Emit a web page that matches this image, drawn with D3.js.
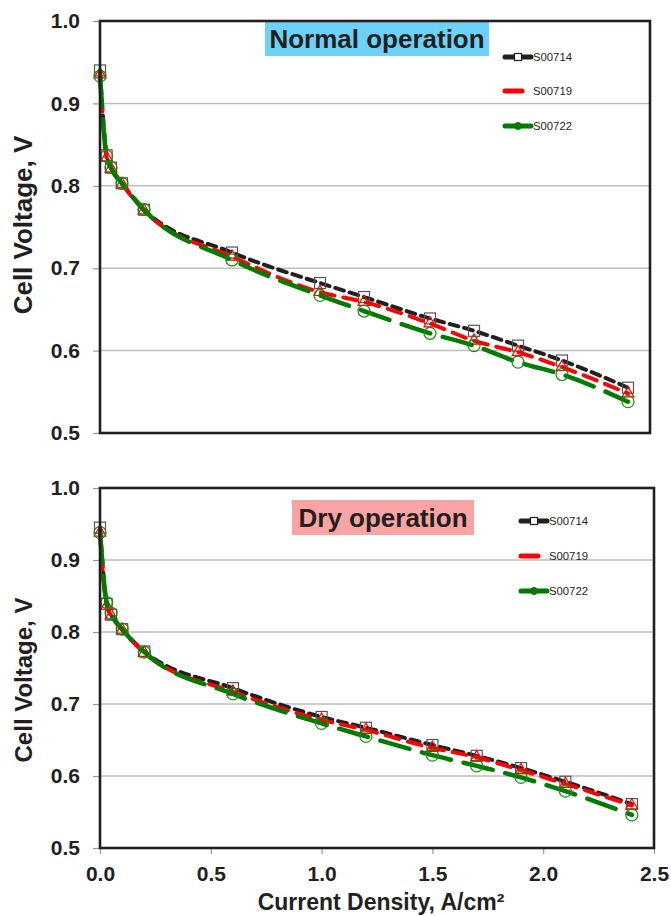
<!DOCTYPE html>
<html>
<head>
<meta charset="utf-8">
<script src="https://cdn.jsdelivr.net/npm/d3@7"></script>
<style>
  html, body { margin: 0; padding: 0; background: #fff; }
  svg { display: block; font-family: "Liberation Sans", Arial, sans-serif; }
</style>
</head>
<body>
<svg id="chart" width="671" height="916"></svg>
<script>
// ---- Data ----
const currentDensity = [0, 0.03, 0.05, 0.1, 0.2, 0.6, 1.0, 1.2, 1.5, 1.7, 1.9, 2.1, 2.4];
const seriesNames = ["S00714", "S00719", "S00722"];

const normal_S00714 = [0.940, 0.837, 0.822, 0.803, 0.771, 0.719, 0.682, 0.665, 0.639, 0.624, 0.606, 0.588, 0.555];
const normal_S00719 = [0.935, 0.834, 0.821, 0.802, 0.770, 0.714, 0.671, 0.659, 0.633, 0.612, 0.598, 0.580, 0.548];
const normal_S00722 = [0.933, 0.836, 0.822, 0.803, 0.771, 0.710, 0.667, 0.648, 0.621, 0.606, 0.586, 0.571, 0.538];

const dry_S00714 = [0.945, 0.839, 0.824, 0.804, 0.773, 0.722, 0.682, 0.667, 0.643, 0.628, 0.611, 0.592, 0.561];
const dry_S00719 = [0.938, 0.836, 0.823, 0.803, 0.771, 0.717, 0.678, 0.664, 0.639, 0.626, 0.608, 0.589, 0.559];
const dry_S00722 = [0.938, 0.841, 0.826, 0.804, 0.772, 0.714, 0.673, 0.655, 0.629, 0.614, 0.598, 0.579, 0.546];

const yTicks = [0.5, 0.6, 0.7, 0.8, 0.9, 1.0];
const xTicks = [0, 0.5, 1.0, 1.5, 2.0, 2.5];
const yTitle = "Cell Voltage, V";
const xTitle = "Current Density, A/cm²";
const panelTitles = ["Normal operation", "Dry operation"];

// ---- Styles ----
const seriesStyle = [
  { color: "#231f20", dash: "9,6", width: 4, marker: "square", mColor: "#555" },
  { color: "#ff0000", dash: "14,9", width: 4, marker: "triangle", mColor: "#ff0000" },
  { color: "#007a00", dash: "30,13", width: 4.5, marker: "circle", mColor: "#1a8a1a" }
];

const svg = d3.select("#chart");

function drawPanel(cfg) {
  const g = svg.append("g");
  const x = d3.scaleLinear().domain([0, 2.5]).range([cfg.left, cfg.right]);
  const y = d3.scaleLinear().domain([0.5, 1.0]).range([cfg.bottom, cfg.top]);

  // grid
  g.selectAll(".grid").data(yTicks.filter(t => t > 0.5 && t < 1.0)).enter()
    .append("line")
    .attr("x1", cfg.left).attr("x2", cfg.right)
    .attr("y1", d => y(d)).attr("y2", d => y(d))
    .attr("stroke", "#bdbdbd").attr("stroke-width", 1.5);

  // y axis
  const yAxis = d3.axisLeft(y).tickValues(yTicks).tickSize(7).tickPadding(13)
    .tickFormat(d3.format(".1f"));
  const ya = g.append("g").attr("transform", `translate(${cfg.left},0)`).call(yAxis);
  ya.select(".domain").remove();
  ya.selectAll(".tick line").attr("stroke", "#999").attr("stroke-width", 1.2);
  ya.selectAll(".tick text").attr("font-size", 21).attr("font-weight", "bold")
    .attr("fill", "#231f20").attr("font-family", "Liberation Sans, Arial, sans-serif");

  // x axis
  if (cfg.showX) {
    const xAxis = d3.axisBottom(x).tickValues(xTicks).tickSize(6).tickPadding(12)
      .tickFormat(d3.format(".1f"));
    const xa = g.append("g").attr("transform", `translate(0,${cfg.bottom})`).call(xAxis);
    xa.select(".domain").remove();
    xa.selectAll(".tick line").attr("stroke", "#999").attr("stroke-width", 1.2);
    xa.selectAll(".tick text").attr("font-size", 21).attr("font-weight", "bold")
      .attr("fill", "#231f20").attr("font-family", "Liberation Sans, Arial, sans-serif");
    g.append("text").attr("x", 381).attr("y", 910).attr("text-anchor", "middle")
      .attr("font-size", 23).attr("font-weight", "bold").attr("fill", "#231f20")
      .text(xTitle);
  }

  // title box
  const tb = cfg.titleBox;
  g.append("rect").attr("x", tb.x).attr("y", tb.y).attr("width", tb.w).attr("height", tb.h)
    .attr("fill", tb.fill);
  g.append("text").attr("x", tb.x + tb.w / 2).attr("y", tb.baseline).attr("text-anchor", "middle")
    .attr("font-size", 26).attr("font-weight", "bold").attr("fill", "#231f20")
    .text(cfg.title);

  // y title
  g.append("text")
    .attr("transform", `translate(${cfg.yTitleX},${cfg.yTitleY}) rotate(-90)`)
    .attr("text-anchor", "middle").attr("font-size", cfg.yTitleSize).attr("font-weight", "bold")
    .attr("fill", "#231f20").text(yTitle);

  // clip
  const line = d3.line().x(d => x(d[0])).y(d => y(d[1])).curve(d3.curveMonotoneX);

  cfg.series.forEach((vals, i) => {
    const st = seriesStyle[i];
    const pts = currentDensity.map((c, k) => [c, vals[k]]);
    g.append("path").attr("d", line(pts)).attr("fill", "none")
      .attr("stroke", st.color).attr("stroke-width", st.width)
      .attr("stroke-dasharray", st.dash).attr("stroke-linecap", "round");
    const m = g.append("g");
    pts.forEach(p => {
      const px = x(p[0]), py = y(p[1]);
      if (st.marker === "square") {
        m.append("rect").attr("x", px - 5.5).attr("y", py - 5.5).attr("width", 11).attr("height", 11)
          .attr("fill", "none").attr("stroke", st.mColor).attr("stroke-width", 1.2);
      } else if (st.marker === "triangle") {
        m.append("path").attr("d", d3.symbol().type(d3.symbolTriangle).size(60)())
          .attr("transform", `translate(${px},${py})`)
          .attr("fill", "none").attr("stroke", st.mColor).attr("stroke-width", 1.2);
      } else {
        m.append("circle").attr("cx", px).attr("cy", py).attr("r", 6)
          .attr("fill", "none").attr("stroke", st.mColor).attr("stroke-width", 1.2);
      }
    });
  });

  // frame
  g.append("rect").attr("x", cfg.left).attr("y", cfg.top)
    .attr("width", cfg.right - cfg.left).attr("height", cfg.bottom - cfg.top)
    .attr("fill", "none").attr("stroke", "#231f20").attr("stroke-width", 2.6);

  // legend
  const lg = cfg.legend;
  seriesNames.forEach((name, i) => {
    const st = seriesStyle[i];
    const ly = lg.ys[i];
    const lx2 = i === 1 ? lg.x2 - 9 : lg.x2;
    g.append("line").attr("x1", lg.x1).attr("x2", lx2).attr("y1", ly).attr("y2", ly)
      .attr("stroke", st.color).attr("stroke-width", 5).attr("stroke-linecap", "round");
    const mx = (lg.x1 + lg.x2) / 2;
    if (st.marker === "square") {
      g.append("rect").attr("x", mx - 3.5).attr("y", ly - 3.5).attr("width", 7).attr("height", 7)
        .attr("fill", "#fff").attr("stroke", st.color).attr("stroke-width", 1.2);
    } else if (st.marker === "circle") {
      g.append("circle").attr("cx", mx).attr("cy", ly).attr("r", 3.5)
        .attr("fill", st.color).attr("stroke", st.color);
    }
    g.append("text").attr("x", lg.tx).attr("y", ly + 4).attr("font-size", 11.3)
      .attr("fill", "#231f20").text(name);
  });
}

drawPanel({
  left: 100, right: 650, top: 21, bottom: 433, showX: false,
  series: [normal_S00714, normal_S00719, normal_S00722],
  title: panelTitles[0],
  titleBox: { x: 265, y: 22, w: 224, h: 34, baseline: 48, fill: "#6dd2f7" },
  yTitleX: 32, yTitleY: 225, yTitleSize: 26,
  legend: { x1: 505, x2: 531, tx: 533, ys: [57, 91, 126] }
});

drawPanel({
  left: 100, right: 654, top: 488, bottom: 848, showX: true,
  series: [dry_S00714, dry_S00719, dry_S00722],
  title: panelTitles[1],
  titleBox: { x: 292, y: 500, w: 182, h: 35, baseline: 527, fill: "#f8a4a4" },
  yTitleX: 32, yTitleY: 680, yTitleSize: 24,
  legend: { x1: 521, x2: 547, tx: 549, ys: [521, 556, 591] }
});
</script>
</body>
</html>
